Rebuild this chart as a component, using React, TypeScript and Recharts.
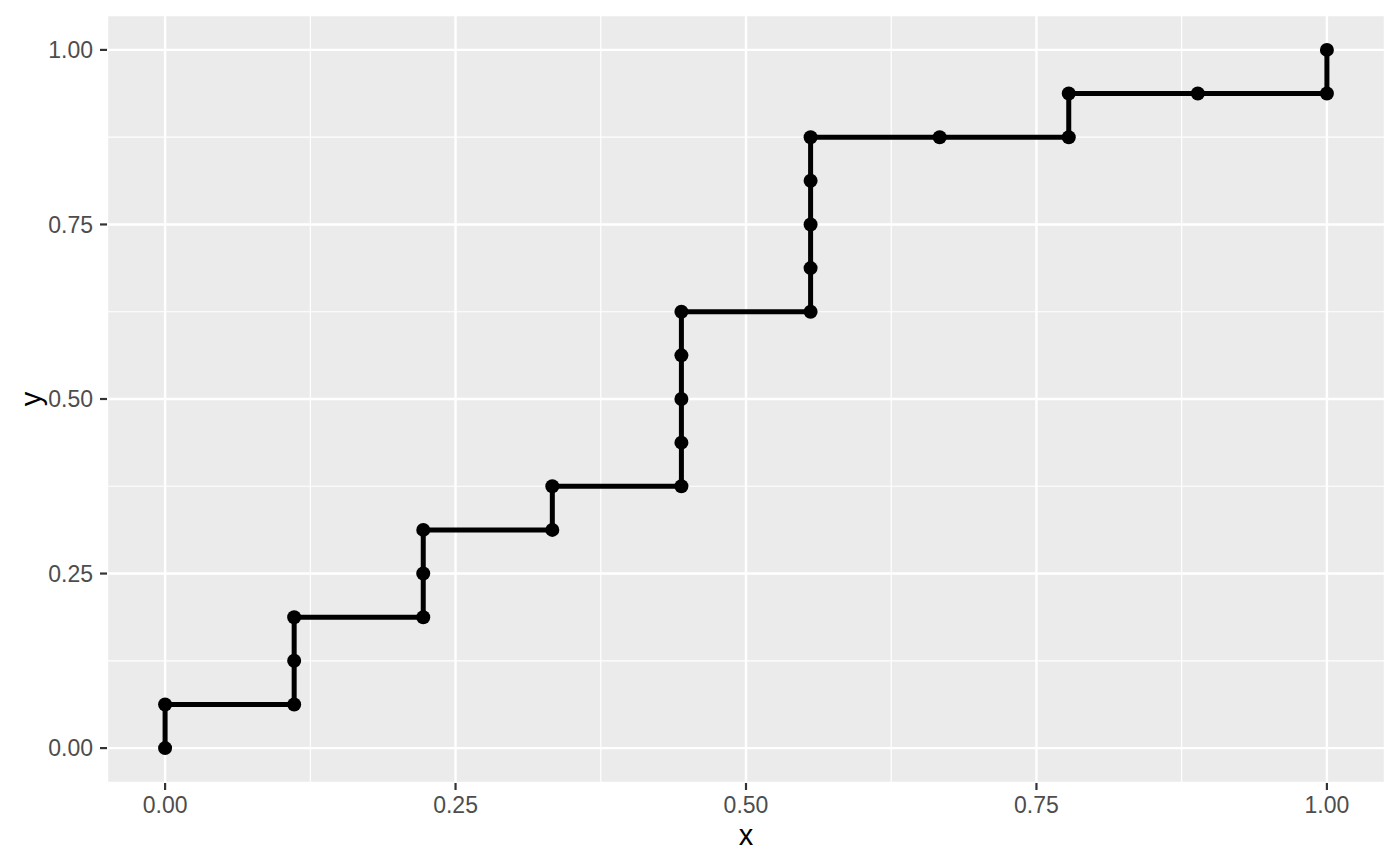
import React from "react";
import {
  ComposedChart,
  Line,
  XAxis,
  YAxis,
  CartesianGrid,
  ReferenceLine,
} from "recharts";

// Step points (x in ninths, y in sixteenths)
const xValues = [
  0, 0, 0.1111, 0.1111, 0.1111, 0.2222, 0.2222, 0.2222, 0.3333, 0.3333,
  0.4444, 0.4444, 0.4444, 0.4444, 0.4444, 0.5556, 0.5556, 0.5556, 0.5556,
  0.5556, 0.6667, 0.7778, 0.7778, 0.8889, 1, 1,
];
const yValues = [
  0, 0.0625, 0.0625, 0.125, 0.1875, 0.1875, 0.25, 0.3125, 0.3125, 0.375,
  0.375, 0.4375, 0.5, 0.5625, 0.625, 0.625, 0.6875, 0.75, 0.8125, 0.875,
  0.875, 0.875, 0.9375, 0.9375, 0.9375, 1,
];
const majorTicks = [0, 0.25, 0.5, 0.75, 1];
const minorTicks = [0.125, 0.375, 0.625, 0.875];
const axisDomain = [-0.05, 1.05];

const data = xValues.map((x, i) => ({ x, y: yValues[i] }));

const FONT = '"Liberation Sans", Arial, Helvetica, sans-serif';

export default function App() {
  return (
    <div style={{ margin: -8, width: 1400, height: 866, background: "#FFFFFF" }}>
      <ComposedChart
        width={1400}
        height={866}
        data={data}
        margin={{ top: 15, right: 15, bottom: 0, left: 0 }}
        style={{ fontFamily: FONT }}
      >
        <CartesianGrid
          fill="#EBEBEB"
          stroke="#FFFFFF"
          strokeWidth={2.4}
          strokeDasharray=""
        />
        {minorTicks.map((t) => (
          <ReferenceLine
            key={"vx" + t}
            x={t}
            stroke="#FFFFFF"
            strokeWidth={1.2}
            ifOverflow="visible"
          />
        ))}
        {minorTicks.map((t) => (
          <ReferenceLine
            key={"hy" + t}
            y={t}
            stroke="#FFFFFF"
            strokeWidth={1.2}
            ifOverflow="visible"
          />
        ))}
        <XAxis
          dataKey="x"
          type="number"
          domain={axisDomain}
          ticks={majorTicks}
          allowDataOverflow
          height={83}
          axisLine={false}
          tickSize={7}
          tickMargin={7}
          tickLine={{ stroke: "#333333", strokeWidth: 2.2 }}
          tick={{ fill: "#4D4D4D", fontSize: 23, fontFamily: FONT }}
          tickFormatter={(v: number) => v.toFixed(2)}
          label={{
            content: (props: any) => {
              const vb = props.viewBox || {};
              return (
                <text
                  x={vb.x + vb.width / 2}
                  y={vb.y + 62}
                  textAnchor="middle"
                  fill="#000000"
                  fontSize={29}
                  fontFamily={FONT}
                >
                  x
                </text>
              );
            },
          }}
        />
        <YAxis
          dataKey="y"
          type="number"
          domain={axisDomain}
          ticks={majorTicks}
          allowDataOverflow
          width={107}
          axisLine={false}
          tickSize={7}
          tickMargin={7}
          tickLine={{ stroke: "#333333", strokeWidth: 2.2 }}
          tick={{ fill: "#4D4D4D", fontSize: 23, fontFamily: FONT }}
          tickFormatter={(v: number) => v.toFixed(2)}
          label={{
            content: (props: any) => {
              const vb = props.viewBox || {};
              const cx = vb.x + 31;
              const cy = vb.y + vb.height / 2;
              return (
                <text
                  x={cx}
                  y={cy}
                  textAnchor="middle"
                  dominantBaseline="central"
                  transform={`rotate(-90 ${cx} ${cy})`}
                  fill="#000000"
                  fontSize={29}
                  fontFamily={FONT}
                >
                  y
                </text>
              );
            },
          }}
        />
        <Line
          dataKey="y"
          type="linear"
          stroke="#000000"
          strokeWidth={5}
          dot={{ r: 7, fill: "#000000", stroke: "none", strokeWidth: 0 }}
          activeDot={false}
          isAnimationActive={false}
        />
      </ComposedChart>
    </div>
  );
}
